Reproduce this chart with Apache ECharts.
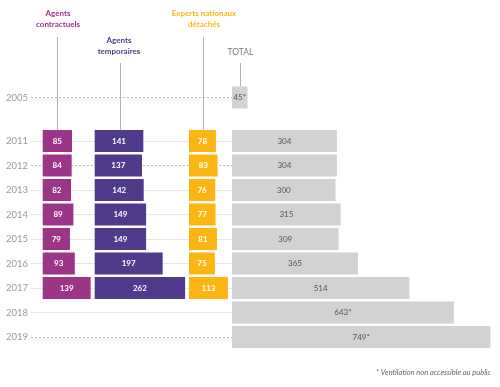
<!DOCTYPE html>
<html>
<head>
<meta charset="utf-8">
<script src="https://cdn.jsdelivr.net/npm/echarts@6/dist/echarts.min.js"></script>
<style>html,body{margin:0;padding:0;background:#fff}#c{width:500px;height:387px}</style>
</head>
<body>
<div id="c"></div>
<script>
// ---- data ----
var yearsEarly = ['2005'];
var totalEarly = [45];
var years = ['2011','2012','2013','2014','2015','2016','2017','2018','2019'];
var contractuels = [85, 84, 82, 89, 79, 93, 139, null, null];
var temporaires = [141, 137, 142, 149, 149, 197, 262, null, null];
var experts = [78, 83, 76, 77, 81, 75, 113, null, null];
var total = [304, 304, 300, 315, 309, 365, 514, 643, 749];
var notPublic = ['2005', '2018', '2019'];   // starred totals
var dashedRows = ['2005', '2012', '2019'];
var headers = {
  contractuels: 'Agents\ncontractuels',
  temporaires: 'Agents\ntemporaires',
  experts: 'Experts nationaux\ndétachés',
  total: 'TOTAL'
};
var footnote = '* Ventilation non accessible au public';

// ---- layout ----
var FONT = 'Lato';
var step = 24.5, barW = 22;
var mainTop = 128.75, mainH = step * years.length;
var earlyTop = 85.25, earlyH = step;
var pxPerUnit = 0.345;
var cols = [
  {left: 42.7, max: 150},
  {left: 94.7, max: 270},
  {left: 189, max: 120},
  {left: 232, max: 760}
];
var C = {c: '#9c3587', t: '#4f3a8c', e: '#fbb614', tot: '#d1d2d4'};

var grids = [
  {left: 31, top: earlyTop, width: 201, height: earlyH},   // 0 bg early
  {left: 31, top: mainTop, width: 201, height: mainH}      // 1 bg main
];
cols.forEach(function (c) {
  grids.push({left: c.left, top: mainTop, width: c.max * pxPerUnit, height: mainH});
});
grids.push({left: cols[3].left, top: earlyTop, width: cols[3].max * pxPerUnit, height: earlyH}); // 6

var xAxes = [], yAxes = [];
grids.forEach(function (g, i) {
  var max = i === 0 || i === 1 ? 1 : (i === 6 ? cols[3].max : cols[i - 2].max);
  xAxes.push({gridIndex: i, type: 'value', min: 0, max: max, show: false});
  var isBg = i < 2;
  yAxes.push({
    gridIndex: i, type: 'category', inverse: true,
    data: (i === 0 || i === 6) ? yearsEarly : years,
    axisLine: {show: false}, axisTick: {show: false}, splitLine: {show: false},
    axisLabel: {show: isBg, color: '#9a9a9a', fontFamily: FONT, fontSize: 9.5, margin: 3}
  });
});

function rowLines(cats) {
  return cats.map(function (y, idx) {
    var d = dashedRows.indexOf(y) >= 0;
    return {yAxis: idx, lineStyle: d ? {type: [2, 2], color: '#a8a8a8', width: 0.8} : {type: 'solid', color: '#e6e6e6', width: 1}};
  });
}

function barLabel(color, weight) {
  return {show: true, position: 'inside', color: color, fontFamily: FONT, fontSize: 8, fontWeight: weight};
}
var starFmt = function (p) { return p.value + (notPublic.indexOf(p.name) >= 0 ? '*' : ''); };

var series = [
  {type: 'line', xAxisIndex: 0, yAxisIndex: 0, data: [], silent: true, z: 0,
   markLine: {symbol: 'none', silent: true, z: 0, label: {show: false}, data: rowLines(yearsEarly)}},
  {type: 'line', xAxisIndex: 1, yAxisIndex: 1, data: [], silent: true, z: 0,
   markLine: {symbol: 'none', silent: true, z: 0, label: {show: false}, data: rowLines(years)}},
  {type: 'bar', xAxisIndex: 2, yAxisIndex: 2, data: contractuels, barWidth: barW, z: 10,
   itemStyle: {color: C.c}, label: barLabel('#fff', 'bold')},
  {type: 'bar', xAxisIndex: 3, yAxisIndex: 3, data: temporaires, barWidth: barW, z: 10,
   itemStyle: {color: C.t}, label: barLabel('#fff', 'bold')},
  {type: 'bar', xAxisIndex: 4, yAxisIndex: 4, data: experts, barWidth: barW, z: 10,
   itemStyle: {color: C.e}, label: barLabel('#fff', 'bold')},
  {type: 'bar', xAxisIndex: 5, yAxisIndex: 5, data: total, barWidth: barW, z: 10,
   itemStyle: {color: C.tot}, label: Object.assign(barLabel('#555', 'normal'), {formatter: starFmt})},
  {type: 'bar', xAxisIndex: 6, yAxisIndex: 6, data: totalEarly, barWidth: barW, z: 10,
   itemStyle: {color: C.tot}, label: Object.assign(barLabel('#555', 'normal'), {formatter: starFmt})}
];

var lineStyle = {stroke: '#b0b0b0', lineWidth: 1};
function vline(x, y1, y2) {
  return {type: 'line', shape: {x1: x, y1: y1, x2: x, y2: y2}, style: lineStyle, silent: true, z: 0};
}
function head(txt, x, y, color, weight, size) {
  return {type: 'text', x: x, y: y, silent: true,
    style: {text: txt, fill: color, font: (weight || 'bold') + ' ' + (size || 8) + 'px ' + FONT,
      textAlign: 'center', textVerticalAlign: 'top', lineHeight: 11}};
}

var option = {
  animation: false,
  grid: grids, xAxis: xAxes, yAxis: yAxes, series: series,
  graphic: [
    vline(57.5, 37, mainTop + 1),
    vline(120.5, 63, mainTop + 1),
    vline(203.5, 37, mainTop + 1),
    vline(240.5, 63, earlyTop + 1),
    head(headers.contractuels, 58, 8, C.c),
    head(headers.temporaires, 119, 35, C.t),
    head(headers.experts, 204, 8, C.e),
    head(headers.total, 240.5, 47, '#7a7a7a', 'normal', 8.5),
    {type: 'text', right: 9, top: 369, silent: true,
     style: {text: footnote, fill: '#666', font: 'italic 7.5px ' + FONT, textAlign: 'right'}}
  ]
};
var chart = echarts.init(document.getElementById('c'), null, {renderer: 'canvas'});
chart.setOption(option);
</script>
</body>
</html>
